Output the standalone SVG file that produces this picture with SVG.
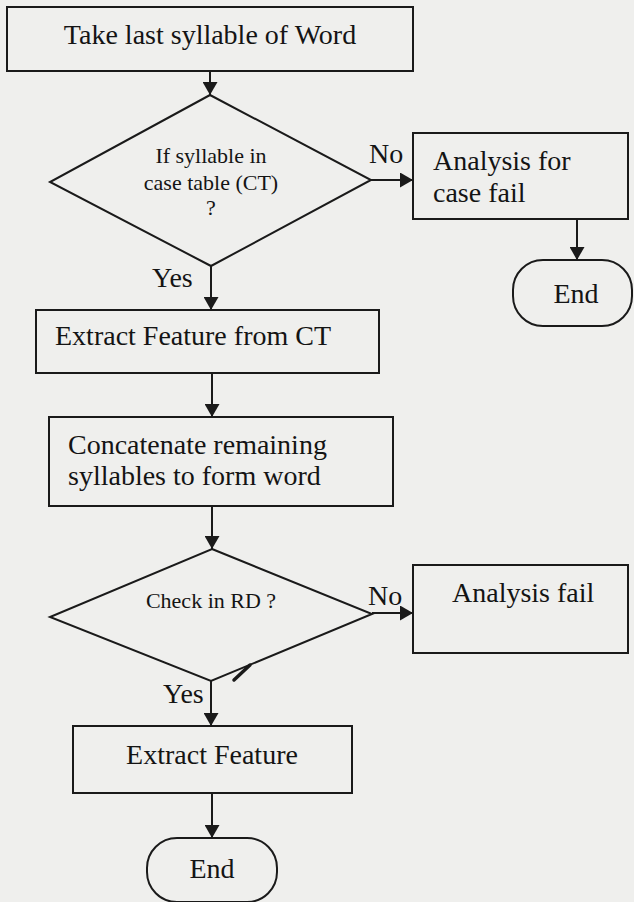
<svg xmlns="http://www.w3.org/2000/svg" width="634" height="902" viewBox="0 0 634 902" font-family="'Liberation Serif', 'Times New Roman', Times, serif">
  <defs>
    <marker id="arrow" viewBox="0 0 13 15" refX="13" refY="7.5" markerWidth="13" markerHeight="15" markerUnits="userSpaceOnUse" orient="auto">
      <path d="M0,0 L13,7.5 L0,15 Z" fill="#1a1a1a"/>
    </marker>
  </defs>
  <style>
    .shape { fill: none; stroke: #1a1a1a; stroke-width: 2; }
    .edge { fill: none; stroke: #1a1a1a; stroke-width: 2; marker-end: url(#arrow); }
    text { font-family: 'Liberation Serif', 'Times New Roman', Times, serif; fill: #141414; font-size: 28px; }
    .s { font-size: 22px; }
    .c { text-anchor: middle; }
  </style>

  <rect width="634" height="902" fill="#efefed"/>

  <!-- process flow -->
  <g id="take-syllable">
    <rect class="shape" x="7" y="7" width="406" height="64"/>
    <text class="c" x="210" y="44">Take last syllable of Word</text>
  </g>

  <g id="check-ct">
    <polygon class="shape" points="210,95 371,180 211,266 50,182"/>
    <text class="s c" x="211" y="163">If syllable in</text>
    <text class="s c" x="211" y="190">case table (CT)</text>
    <text class="s c" x="211" y="215">?</text>
  </g>

  <g id="case-fail">
    <rect class="shape" x="413" y="133" width="215" height="86"/>
    <text x="433" y="170">Analysis for</text>
    <text x="433" y="202">case fail</text>
  </g>

  <g id="end-case-fail">
    <rect class="shape" x="513" y="260" width="119" height="66" rx="30" ry="30"/>
    <text class="c" x="576" y="303">End</text>
  </g>

  <g id="extract-ct">
    <rect class="shape" x="36" y="310" width="343" height="63"/>
    <text x="55" y="345">Extract Feature from CT</text>
  </g>

  <g id="concatenate">
    <rect class="shape" x="49" y="417" width="344" height="89"/>
    <text x="68" y="454">Concatenate remaining</text>
    <text x="68" y="485">syllables to form word</text>
  </g>

  <g id="check-rd">
    <polygon class="shape" points="212,549 372,614 211,681 50,617"/>
    <text class="s c" x="211" y="608">Check in RD ?</text>
  </g>

  <g id="analysis-fail">
    <rect class="shape" x="413" y="565" width="215" height="88"/>
    <text x="452" y="602">Analysis fail</text>
  </g>

  <g id="extract-feature">
    <rect class="shape" x="73" y="726" width="279" height="67"/>
    <text class="c" x="212" y="764">Extract Feature</text>
  </g>

  <g id="end-main">
    <rect class="shape" x="147" y="838" width="130" height="64" rx="30" ry="30"/>
    <text class="c" x="212" y="878">End</text>
  </g>

  <!-- connectors -->
  <g id="connectors">
    <line class="edge" x1="210" y1="71" x2="210" y2="95"/>
    <line class="edge" x1="371" y1="180" x2="413" y2="180"/>
    <line class="edge" x1="577" y1="219" x2="577" y2="260"/>
    <line class="edge" x1="211" y1="266" x2="211" y2="310"/>
    <line class="edge" x1="212" y1="373" x2="212" y2="417"/>
    <line class="edge" x1="212" y1="506" x2="212" y2="549"/>
    <line class="edge" x1="372" y1="613" x2="413" y2="613"/>
    <line class="edge" x1="211" y1="681" x2="211" y2="726"/>
    <line class="edge" x1="212" y1="793" x2="212" y2="838"/>
    <text x="369" y="163">No</text>
    <text x="152" y="287">Yes</text>
    <text x="368" y="605">No</text>
    <text x="163" y="703">Yes</text>
  </g>

  <!-- pen stroke on the lower right edge of the second decision -->
  <line x1="234" y1="680" x2="250" y2="665" stroke="#1a1a1a" stroke-width="3.5" stroke-linecap="round"/>
</svg>
